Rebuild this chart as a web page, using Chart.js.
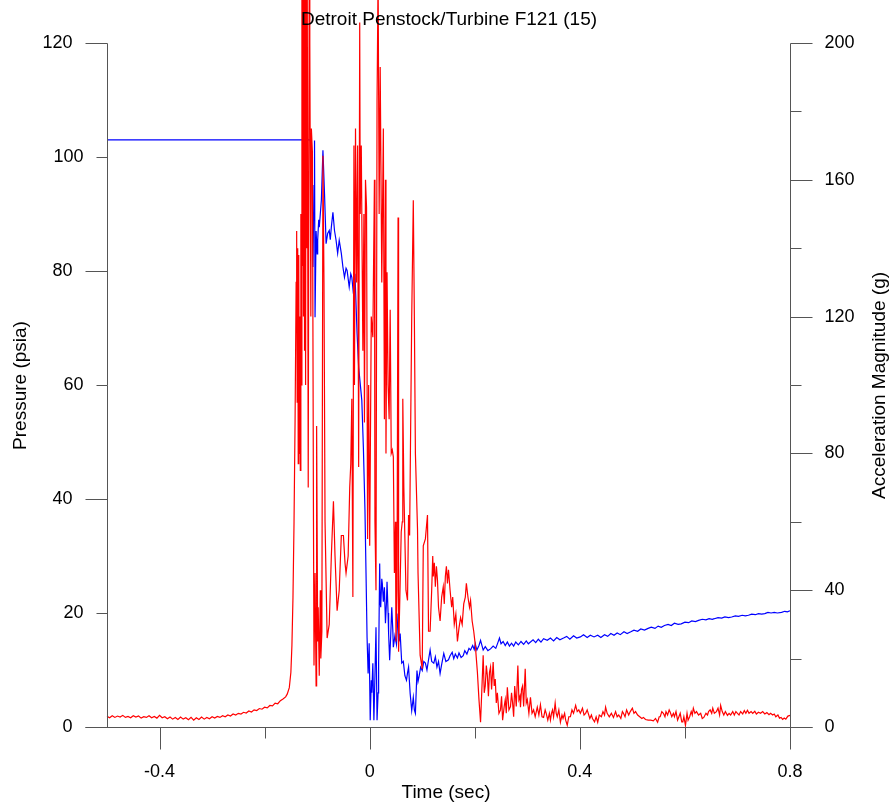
<!DOCTYPE html>
<html>
<head>
<meta charset="utf-8">
<title>Detroit Penstock/Turbine F121 (15)</title>
<script src="https://cdn.jsdelivr.net/npm/chart.js@4.4.1/dist/chart.umd.min.js"></script>
<style>
  html, body { margin: 0; padding: 0; background: #fff; }
  #wrap { width: 893px; height: 807px; }
</style>
</head>
<body>
<div id="wrap"><canvas id="penstock-chart" width="893" height="807"></canvas></div>
<script>
// chart text
const chartTitle = 'Detroit Penstock/Turbine F121 (15)';
const xTitle = 'Time (sec)';
const leftTitle = 'Pressure (psia)';
const rightTitle = 'Acceleration Magnitude (g)';

// axis ranges and ticks
const xRange = [-0.5, 0.8];
const leftRange = [0, 120];
const rightRange = [0, 200];
const xMajorTicks = [-0.4, 0, 0.4, 0.8];
const xMinorTicks = [-0.2, 0.2, 0.6];
const xTickLabels = ['-0.4', '0', '0.4', '0.8'];
const leftMajorTicks = [0, 40, 80, 120];
const leftMinorTicks = [20, 60, 100];
const leftTickLabels = ['0', '20', '40', '60', '80', '100', '120'];
const leftLabelValues = [0, 20, 40, 60, 80, 100, 120];
const rightMajorTicks = [0, 40, 80, 120, 160, 200];
const rightMinorTicks = [20, 60, 100, 140, 180];
const rightTickLabels = ['0', '40', '80', '120', '160', '200'];

// acceleration magnitude (g), red trace
const accelTime = [
  -0.500, -0.495, -0.490, -0.485, -0.480, -0.475, -0.470, -0.465, -0.460, -0.455,
  -0.450, -0.445, -0.440, -0.435, -0.430, -0.425, -0.420, -0.415, -0.410, -0.405,
  -0.400, -0.395, -0.390, -0.385, -0.380, -0.375, -0.370, -0.365, -0.360, -0.355,
  -0.350, -0.345, -0.340, -0.335, -0.330, -0.325, -0.320, -0.315, -0.310, -0.305,
  -0.300, -0.295, -0.290, -0.285, -0.280, -0.275, -0.270, -0.265, -0.260, -0.255,
  -0.250, -0.245, -0.240, -0.235, -0.230, -0.225, -0.220, -0.215, -0.210, -0.205,
  -0.200, -0.195, -0.190, -0.185, -0.180, -0.175, -0.170, -0.165, -0.160,
  -0.157, -0.153, -0.150, -0.148, -0.146, -0.144, -0.142, -0.140, -0.139, -0.138,
  -0.137, -0.136, -0.135, -0.134, -0.133, -0.132, -0.131, -0.130, -0.129, -0.128,
  -0.127, -0.126, -0.125, -0.124, -0.123, -0.122, -0.121, -0.120, -0.119, -0.117,
  -0.115, -0.114, -0.112, -0.111, -0.109, -0.107, -0.106, -0.104, -0.102, -0.101,
  -0.099, -0.098, -0.096, -0.094, -0.093, -0.091, -0.089, -0.087, -0.085, -0.081,
  -0.077, -0.073, -0.069, -0.066, -0.062, -0.058, -0.054, -0.050, -0.047, -0.045,
  -0.041, -0.038, -0.036, -0.034, -0.032, -0.030, -0.029, -0.027, -0.025, -0.023,
  -0.021, -0.019, -0.018, -0.016, -0.013, -0.011, -0.010, -0.008, -0.006, -0.004,
  -0.002, 0.000, 0.003, 0.006, 0.009, 0.010, 0.012, 0.014, 0.016, 0.018,
  0.020, 0.023, 0.026, 0.028, 0.030, 0.031, 0.033, 0.035, 0.037, 0.039,
  0.041, 0.043, 0.045, 0.047, 0.049, 0.050, 0.052, 0.054, 0.055, 0.057,
  0.060, 0.062, 0.063, 0.065, 0.069, 0.072, 0.074, 0.076, 0.080, 0.083,
  0.085, 0.087, 0.091, 0.092, 0.096, 0.100, 0.102, 0.106, 0.110, 0.112,
  0.115, 0.118, 0.120, 0.121, 0.123, 0.125, 0.127, 0.129, 0.131, 0.134,
  0.137, 0.140, 0.142, 0.144, 0.146, 0.148, 0.150, 0.153, 0.156, 0.158,
  0.161, 0.164, 0.167, 0.170, 0.173, 0.176, 0.179, 0.182, 0.184, 0.187,
  0.190, 0.192, 0.195, 0.198, 0.201, 0.203, 0.205, 0.208, 0.211, 0.214,
  0.216, 0.218, 0.220, 0.222, 0.224, 0.226, 0.228, 0.230, 0.232, 0.235,
  0.237, 0.239, 0.241, 0.243, 0.246, 0.249, 0.251, 0.253, 0.256, 0.258,
  0.260, 0.262, 0.265, 0.268, 0.270, 0.272, 0.274, 0.276, 0.279, 0.282,
  0.284, 0.286, 0.287, 0.289, 0.291, 0.293, 0.296, 0.298, 0.300, 0.303,
  0.306, 0.309, 0.312, 0.315, 0.319, 0.322, 0.325, 0.328, 0.331, 0.334,
  0.336, 0.339, 0.342, 0.344, 0.346, 0.348, 0.350, 0.353, 0.355, 0.357,
  0.360, 0.363, 0.366, 0.368, 0.371, 0.373, 0.376, 0.379, 0.382, 0.385,
  0.388, 0.392, 0.395, 0.398, 0.401, 0.405, 0.408, 0.411, 0.414, 0.416,
  0.419, 0.422, 0.424, 0.428, 0.431, 0.434, 0.437, 0.441, 0.444, 0.447,
  0.449, 0.452, 0.456, 0.460, 0.464, 0.468, 0.471, 0.474, 0.478, 0.481,
  0.483, 0.486, 0.489, 0.493, 0.496, 0.500, 0.503, 0.506, 0.510, 0.514,
  0.518, 0.521, 0.525, 0.530, 0.535, 0.540, 0.544, 0.548, 0.551, 0.553,
  0.556, 0.559, 0.562, 0.564, 0.567, 0.570, 0.572, 0.575, 0.578, 0.580,
  0.583, 0.586, 0.588, 0.591, 0.594, 0.596, 0.598, 0.601, 0.604, 0.606,
  0.609, 0.612, 0.614, 0.616, 0.619, 0.622, 0.626, 0.630, 0.633, 0.636,
  0.640, 0.643, 0.645, 0.648, 0.651, 0.653, 0.656, 0.660, 0.663, 0.666,
  0.668, 0.671, 0.674, 0.677, 0.681, 0.684, 0.687, 0.691, 0.694, 0.697,
  0.700, 0.703, 0.706, 0.710, 0.713, 0.716, 0.719, 0.722, 0.726, 0.729,
  0.733, 0.736, 0.740, 0.744, 0.748, 0.752, 0.756, 0.760, 0.763, 0.767,
  0.770, 0.773, 0.777, 0.780, 0.783, 0.786, 0.789, 0.792, 0.796, 0.800
];
const accelValue = [
  3.1, 2.7, 3.3, 2.8, 3.2, 2.9, 3.4, 2.8, 3.1, 2.7,
  3.3, 2.9, 3.2, 2.6, 3.0, 2.8, 3.3, 2.7, 3.1, 2.6,
  3.4, 2.7, 3.0, 2.4, 2.9, 2.3, 2.8, 2.2, 2.9, 2.3,
  2.7, 2.1, 2.8, 2.0, 2.7, 2.2, 2.9, 2.3, 2.8, 2.4,
  3.0, 2.6, 3.1, 2.8, 3.3, 3.0, 3.5, 3.2, 3.8, 3.5,
  4.0, 3.8, 4.3, 4.1, 4.7, 4.4, 5.0, 4.8, 5.4, 5.2,
  5.8, 5.6, 6.3, 6.2, 7.0, 6.8, 7.7, 8.2, 8.8,
  9.6, 11.5, 16, 24, 38, 60, 90, 130, 145, 95,
  140, 77, 138, 80, 120, 75, 150, 100, 230, 135,
  240, 120, 235, 110, 240, 100, 235, 140, 230, 70,
  230, 200, 120, 175, 168, 60, 18, 45, 12, 88,
  25, 35, 15, 40, 20, 28, 167, 130, 60, 26,
  30, 50, 66, 50, 34, 40, 56, 56, 48, 45,
  50, 70, 77, 96, 38, 170, 100, 175, 130, 170,
  76, 206, 150, 170, 110, 150, 89, 160, 152, 55,
  100, 53, 120, 114, 160, 60, 40, 183, 220, 150,
  193, 130, 175, 90, 160, 80, 133, 100, 90, 122,
  80, 81, 79, 45, 60, 25, 40, 149, 22, 35,
  57, 60, 96, 70, 40, 37, 62, 56, 120, 154,
  120, 80, 58, 45, 21, 17, 53, 55, 62, 28,
  28, 40, 50, 44, 48, 41, 47, 43, 35, 31,
  38, 41, 36, 44, 47, 42, 46, 40, 35, 38,
  30, 33, 25, 29, 32, 30, 36, 38, 42, 38,
  35, 37, 31, 28, 24, 20, 16, 8, 1.4, 13,
  21, 10, 12, 18, 15, 9, 16, 17.5, 11, 19,
  12, 14, 7, 10, 4, 5, 9, 2.0, 6, 8,
  4, 11.6, 5, 6, 10, 7, 3, 12, 6, 18,
  8, 9, 5.8, 11, 12, 6, 17, 7, 8, 4,
  8.7, 4, 5, 3, 5.8, 3.5, 6.5, 3, 2.8, 5,
  4, 2, 4, 2.0, 4, 5, 3, 7, 4, 3,
  5, 1.4, 3.5, 2.5, 4, 2, 0.5, 3, 3, 5,
  4, 6.3, 4.5, 5, 4, 5.5, 3.5, 4, 5, 4,
  2.5, 3.5, 2.5, 1.5, 3, 1.4, 3.5, 3, 4.5, 3.5,
  5.8, 4, 3, 4, 2.8, 4.5, 3, 3.5, 2.5, 4.5,
  4, 3, 5, 3.5, 4.5, 5.5, 4, 4.5, 3.5, 3,
  2.5, 2.8, 2.2, 2, 2, 1.8, 2.5, 1.4, 3, 3,
  4.5, 4, 3, 4.5, 3.5, 5, 4.3, 3, 4, 3,
  4.5, 2, 2.8, 4, 1.5, 1.5, 3, 0.5, 4, 2,
  3, 4.5, 3.5, 5.5, 4, 4.5, 3.5, 4, 2.5, 2.8,
  4, 3.5, 4.5, 5, 4, 5.5, 4, 4.5, 5.5, 3.5,
  6.3, 4.5, 3.5, 4.5, 3.4, 4, 3.5, 4.5, 3.5, 4.5,
  4, 3.5, 4.5, 3.8, 4.8, 4, 4.9, 4, 4.5, 4,
  4.6, 3.8, 4.3, 4, 4.5, 3.8, 4.2, 3.6, 4, 3.5,
  3.8, 3, 3.5, 2.6, 2.8, 2.2, 2.6, 2.3, 3.2, 3.4
];

// pressure (psia), blue trace
const pressureTime = [
  -0.500, -0.113, -0.110, -0.108, -0.106, -0.105, -0.104, -0.102, -0.100, -0.099,
  -0.097, -0.096, -0.094, -0.092, -0.089, -0.086, -0.083, -0.080, -0.077, -0.075,
  -0.073, -0.070, -0.067, -0.064, -0.061, -0.058, -0.054, -0.051, -0.048, -0.045,
  -0.043, -0.039, -0.036, -0.034, -0.031, -0.028, -0.024, -0.021, -0.018, -0.015,
  -0.012, -0.009, -0.007, -0.005, -0.003, -0.001, 0.001, 0.003, 0.004, 0.006,
  0.008, 0.010, 0.012, 0.014, 0.016, 0.017, 0.019, 0.020, 0.021, 0.023,
  0.024, 0.026, 0.028, 0.030, 0.032, 0.033, 0.035, 0.036, 0.038, 0.040,
  0.042, 0.044, 0.045, 0.048, 0.051, 0.054, 0.056, 0.058, 0.061, 0.064,
  0.067, 0.070, 0.072, 0.074, 0.077, 0.080, 0.083, 0.085, 0.087, 0.090,
  0.092, 0.094, 0.097, 0.100, 0.103, 0.106, 0.109, 0.112, 0.115, 0.118,
  0.122, 0.125, 0.128, 0.131, 0.134, 0.137, 0.141, 0.145, 0.150, 0.153,
  0.157, 0.160, 0.163, 0.167, 0.170, 0.174, 0.178, 0.181, 0.185, 0.189,
  0.192, 0.196, 0.199, 0.201, 0.204, 0.208, 0.211, 0.214, 0.216, 0.220,
  0.225, 0.230, 0.235, 0.240, 0.244, 0.247, 0.250, 0.254, 0.258, 0.262,
  0.266, 0.270, 0.274, 0.278, 0.283, 0.288, 0.293, 0.298, 0.302, 0.306,
  0.311, 0.316, 0.321, 0.326, 0.331, 0.338, 0.344, 0.350, 0.356, 0.362,
  0.369, 0.375, 0.381, 0.388, 0.394, 0.401, 0.407, 0.414, 0.420, 0.427,
  0.434, 0.440, 0.447, 0.453, 0.459, 0.465, 0.471, 0.477, 0.484, 0.490,
  0.497, 0.503, 0.510, 0.516, 0.523, 0.530, 0.536, 0.543, 0.549, 0.555,
  0.561, 0.568, 0.574, 0.580, 0.587, 0.593, 0.600, 0.607, 0.613, 0.620,
  0.626, 0.633, 0.640, 0.646, 0.652, 0.656, 0.663, 0.670, 0.676, 0.683,
  0.689, 0.696, 0.702, 0.709, 0.715, 0.721, 0.727, 0.734, 0.740, 0.746,
  0.752, 0.758, 0.764, 0.770, 0.776, 0.784, 0.790, 0.795, 0.800
];
const pressureValue = [
  103, 103, 100.6, 80.7, 95, 102.9, 71.9, 87, 83, 85.4,
  89, 87.7, 90, 92.4, 101.2, 93.6, 84.8, 86.6, 87.1, 85.5,
  87.7, 90.3, 87.1, 85.4, 83.1, 85.4, 83.1, 80.7, 78.9, 80.5,
  80.1, 77.2, 79.5, 78.9, 76.0, 79.5, 69.0, 63.1, 60.2, 57.3,
  49, 38, 27, 15.7, 9.4, 14.7, 1.2, 8.2, 6, 11.2,
  1.2, 9, 17.5, 1.2, 6, 11.2, 28.7, 22, 21, 26,
  25.2, 22, 24.5, 18.2, 22, 25.5, 20, 16.4, 11.7, 16,
  21, 17, 14, 16, 14.5, 19.9, 15, 16.4, 11.2, 11.5,
  9, 8.2, 9.5, 10.5, 5.9, 2.9, 5.2, 3, 2.4, 9.9,
  8, 8.9, 10.5, 9.9, 11.5, 11.2, 10, 11.8, 13.5, 11.5,
  11.2, 12.3, 10.5, 11.5, 9.4, 11, 12.9, 11.5, 11.8, 12.5,
  13.1, 12, 12.8, 12.1, 13, 12.2, 12.5, 13.4, 12.8, 13.8,
  13.5, 14.3, 13.6, 14.6, 13.5, 14.3, 15.2, 14.2, 13.5, 14.1,
  13.4, 13.7, 14.2, 13.8, 14.8, 15.6, 14.6, 15.0, 14.3, 14.9,
  14.2, 14.7, 14.2, 14.9, 14.4, 15.0, 14.5, 15.1, 14.6, 14.9,
  15.3, 14.8, 15.4, 14.9, 15.5, 15.2, 15.6, 15.1, 15.7, 15.3,
  15.6, 15.9, 15.4, 16.0, 15.6, 15.8, 16.2, 15.7, 16.1, 15.8,
  16.1, 15.7, 16.2, 15.9, 16.4, 16.1, 16.5, 16.2, 16.7, 16.4,
  16.7, 17.0, 16.8, 17.2, 17.0, 17.3, 17.5, 17.3, 17.7, 17.5,
  17.8, 18.0, 17.8, 18.2, 18.0, 18.1, 18.4, 18.3, 18.6, 18.5,
  18.7, 18.9, 18.8, 19.0, 18.9, 19.0, 19.2, 19.1, 19.3, 19.2,
  19.3, 19.5, 19.4, 19.6, 19.5, 19.6, 19.8, 19.7, 19.9, 19.8,
  19.9, 20.1, 20.0, 20.1, 20.0, 20.1, 20.3, 20.2, 20.4
];

const FONT = '"Liberation Sans", Arial, Helvetica, sans-serif';

// Igor-style axes: ticks outside, long major / short minor
const igorAxes = {
  id: 'igorAxes',
  afterDraw(chart) {
    const ctx = chart.ctx;
    const xs = chart.scales.x;
    const yl = chart.scales.yP;
    const yr = chart.scales.yA;
    const snap = v => Math.round(v) + 0.5;
    const L = snap(xs.getPixelForValue(xRange[0]));
    const R = snap(xs.getPixelForValue(xRange[1]));
    const B = snap(yl.getPixelForValue(leftRange[0]));
    const T = snap(yl.getPixelForValue(leftRange[1]));
    const major = 22, minor = 11;

    ctx.save();
    ctx.strokeStyle = '#555';
    ctx.lineWidth = 1;
    ctx.beginPath();
    // axis lines
    ctx.moveTo(L, T); ctx.lineTo(L, B);
    ctx.moveTo(R, T); ctx.lineTo(R, B);
    ctx.moveTo(L - major, B); ctx.lineTo(R + major, B);
    // bottom ticks
    xMajorTicks.forEach(v => { const p = snap(xs.getPixelForValue(v)); ctx.moveTo(p, B); ctx.lineTo(p, B + major); });
    xMinorTicks.forEach(v => { const p = snap(xs.getPixelForValue(v)); ctx.moveTo(p, B); ctx.lineTo(p, B + minor); });
    // left ticks
    leftMajorTicks.forEach(v => { const p = snap(yl.getPixelForValue(v)); ctx.moveTo(L - major, p); ctx.lineTo(L, p); });
    leftMinorTicks.forEach(v => { const p = snap(yl.getPixelForValue(v)); ctx.moveTo(L - minor, p); ctx.lineTo(L, p); });
    // right ticks
    rightMajorTicks.forEach(v => { const p = snap(yr.getPixelForValue(v)); ctx.moveTo(R, p); ctx.lineTo(R + major, p); });
    rightMinorTicks.forEach(v => { const p = snap(yr.getPixelForValue(v)); ctx.moveTo(R, p); ctx.lineTo(R + minor, p); });
    ctx.stroke();

    ctx.fillStyle = '#000';
    ctx.font = '18px ' + FONT;
    ctx.textBaseline = 'middle';
    // bottom labels
    ctx.textAlign = 'center';
    xMajorTicks.forEach((v, i) => ctx.fillText(xTickLabels[i], xs.getPixelForValue(v), B + 45));
    // left labels (short ticks sit closer to the axis)
    ctx.textAlign = 'right';
    leftLabelValues.forEach((v, i) => {
      const len = leftMajorTicks.includes(v) ? major : minor;
      ctx.fillText(leftTickLabels[i], L - len - 13, yl.getPixelForValue(v));
    });
    // right labels
    ctx.textAlign = 'left';
    rightMajorTicks.forEach((v, i) => ctx.fillText(rightTickLabels[i], R + major + 12, yr.getPixelForValue(v)));

    // titles
    ctx.font = '19px ' + FONT;
    ctx.textAlign = 'center';
    ctx.fillText(chartTitle, (L + R) / 2, 20);
    ctx.fillText(xTitle, (L + R) / 2 - 3, 793);
    ctx.save();
    ctx.translate(21, (T + B) / 2);
    ctx.rotate(-Math.PI / 2);
    ctx.fillText(leftTitle, 0, 0);
    ctx.restore();
    ctx.save();
    ctx.translate(880, (T + B) / 2);
    ctx.rotate(-Math.PI / 2);
    ctx.fillText(rightTitle, 0, 0);
    ctx.restore();
    ctx.restore();
  }
};

const toPoints = (xs, ys) => xs.map((t, i) => ({ x: t, y: ys[i] }));

new Chart(document.getElementById('penstock-chart').getContext('2d'), {
  type: 'line',
  data: {
    datasets: [
      {
        label: 'Acceleration Magnitude (g)',
        data: toPoints(accelTime, accelValue),
        yAxisID: 'yA',
        borderColor: '#ff0000',
        borderWidth: 1.2,
        pointRadius: 0,
        tension: 0,
        clip: false
      },
      {
        label: 'Pressure (psia)',
        data: toPoints(pressureTime, pressureValue),
        yAxisID: 'yP',
        borderColor: '#0000ff',
        borderWidth: 1.2,
        pointRadius: 0,
        tension: 0,
        clip: false
      }
    ]
  },
  options: {
    responsive: false,
    devicePixelRatio: 1,
    animation: false,
    events: [],
    layout: { padding: { left: 107, right: 103, top: 43, bottom: 80 } },
    plugins: {
      legend: { display: false },
      title: { display: false },
      tooltip: { enabled: false }
    },
    scales: {
      x: { type: 'linear', min: xRange[0], max: xRange[1], display: false },
      yP: { type: 'linear', position: 'left', min: leftRange[0], max: leftRange[1], display: false },
      yA: { type: 'linear', position: 'right', min: rightRange[0], max: rightRange[1], display: false }
    }
  },
  plugins: [igorAxes]
});
</script>
</body>
</html>
